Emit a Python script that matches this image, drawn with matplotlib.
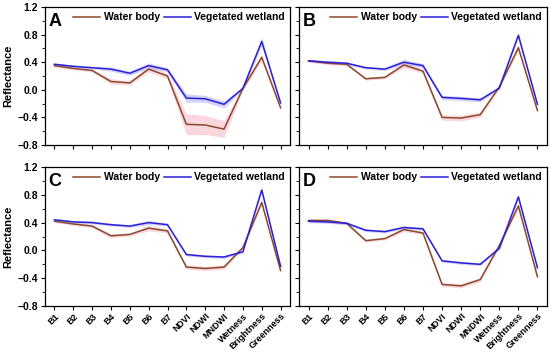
import numpy as np
import matplotlib
matplotlib.use("Agg")
import matplotlib.pyplot as plt
from matplotlib.ticker import MultipleLocator

plt.rcParams['font.family'] = ['Liberation Sans', 'DejaVu Sans']
plt.rcParams['font.weight'] = 'bold'
plt.rcParams['axes.unicode_minus'] = True

features = ["B1", "B2", "B3", "B4", "B5", "B6", "B7", "NDVI", "NDWI", "MNDWI",
            "Wetness", "Brightness", "Greenness"]

# panel A
water_a = [0.35, 0.31, 0.28, 0.12, 0.10, 0.30, 0.20, -0.50, -0.51, -0.57, 0.02, 0.47, -0.26]
water_a_sd = [0.02, 0.02, 0.02, 0.04, 0.03, 0.04, 0.04, 0.15, 0.14, 0.12, 0.03, 0.05, 0.02]
veg_a = [0.37, 0.34, 0.32, 0.30, 0.24, 0.35, 0.29, -0.12, -0.13, -0.21, 0.02, 0.70, -0.19]
veg_a_sd = [0.02, 0.02, 0.02, 0.03, 0.03, 0.04, 0.03, 0.06, 0.05, 0.05, 0.02, 0.06, 0.02]

# panel B
water_b = [0.42, 0.385, 0.37, 0.16, 0.18, 0.36, 0.27, -0.40, -0.41, -0.36, 0.04, 0.61, -0.30]
water_b_sd = [0.02, 0.02, 0.02, 0.02, 0.02, 0.04, 0.03, 0.04, 0.04, 0.04, 0.02, 0.04, 0.02]
veg_b = [0.42, 0.40, 0.385, 0.32, 0.30, 0.40, 0.35, -0.11, -0.125, -0.145, 0.025, 0.79, -0.21]
veg_b_sd = [0.02, 0.02, 0.02, 0.02, 0.02, 0.04, 0.03, 0.03, 0.03, 0.03, 0.02, 0.03, 0.02]

# panel C
water_c = [0.42, 0.38, 0.35, 0.21, 0.23, 0.32, 0.28, -0.24, -0.26, -0.24, 0.04, 0.69, -0.29]
water_c_sd = [0.02, 0.02, 0.02, 0.03, 0.02, 0.04, 0.03, 0.03, 0.03, 0.03, 0.02, 0.03, 0.02]
veg_c = [0.44, 0.41, 0.40, 0.37, 0.35, 0.40, 0.37, -0.06, -0.085, -0.095, -0.02, 0.87, -0.23]
veg_c_sd = [0.02, 0.02, 0.02, 0.02, 0.02, 0.03, 0.02, 0.02, 0.02, 0.02, 0.02, 0.03, 0.02]

# panel D
water_d = [0.43, 0.43, 0.39, 0.14, 0.17, 0.30, 0.25, -0.49, -0.51, -0.42, 0.07, 0.64, -0.38]
water_d_sd = [0.03, 0.03, 0.02, 0.02, 0.02, 0.03, 0.02, 0.03, 0.03, 0.03, 0.03, 0.04, 0.02]
veg_d = [0.42, 0.41, 0.39, 0.29, 0.27, 0.33, 0.31, -0.15, -0.18, -0.20, 0.03, 0.77, -0.25]
veg_d_sd = [0.02, 0.02, 0.02, 0.02, 0.02, 0.02, 0.02, 0.02, 0.02, 0.02, 0.02, 0.03, 0.02]

panels = [
    ("A", water_a, water_a_sd, veg_a, veg_a_sd),
    ("B", water_b, water_b_sd, veg_b, veg_b_sd),
    ("C", water_c, water_c_sd, veg_c, veg_c_sd),
    ("D", water_d, water_d_sd, veg_d, veg_d_sd),
]

W, H = 550, 354
fig = plt.figure(figsize=(W / 100, H / 100), dpi=100)

# pixel boxes (left, top, right, bottom)
boxes = [(45, 7, 290, 145), (299, 7, 547, 145), (45, 167, 290, 306), (299, 167, 547, 306)]

water_col = "#8b4a2b"
water_fill = "#f4a6b8"
veg_col = "#2a1fd6"
veg_fill = "#9c9cf0"

x = np.arange(len(features))
for i, (box, (lab, w, wsd, v, vsd)) in enumerate(zip(boxes, panels)):
    l, t, r, b = box
    ax = fig.add_axes([l / W, 1 - b / H, (r - l) / W, (b - t) / H])
    w = np.array(w); wsd = np.array(wsd)
    v = np.array(v); vsd = np.array(vsd)
    ax.fill_between(x, w - wsd, w + wsd, color=water_fill, alpha=0.45, lw=0)
    ax.fill_between(x, v - vsd, v + vsd, color=veg_fill, alpha=0.45, lw=0)
    ax.plot(x, w, color=water_col, lw=1.1, label="Water body")
    ax.plot(x, v, color=veg_col, lw=1.1, label="Vegetated wetland")
    ax.set_xlim(-0.5, 12.5)
    ax.set_ylim(-0.8, 1.2)
    ax.yaxis.set_major_locator(MultipleLocator(0.4))
    ax.yaxis.set_minor_locator(MultipleLocator(0.2))
    ax.set_xticks(x)
    ax.tick_params(axis='both', which='major', length=3, width=0.8, labelsize=7.5, pad=2)
    ax.tick_params(axis='x', which='major', pad=1)
    ax.tick_params(axis='y', which='minor', length=2, width=0.6)
    for s in ax.spines.values():
        s.set_linewidth(0.9)
    ax.set_yticks([-0.8, -0.4, 0.0, 0.4, 0.8, 1.2])
    if i % 2 == 0:
        ax.set_yticklabels(["\u22120.8", "\u22120.4", "0.0", "0.4", "0.8", "1.2"], fontweight='bold')
        ax.set_ylabel("Reflectance", fontsize=8, fontweight='bold', labelpad=3)
    else:
        ax.set_yticklabels([])
    if i >= 2:
        ax.set_xticklabels(features, rotation=45, ha='right', rotation_mode='anchor',
                           fontsize=6.5, fontweight='bold')
    else:
        ax.set_xticklabels([])
    ax.text(0.015, 0.96, lab, transform=ax.transAxes, fontsize=13, fontweight='bold',
            va='top', ha='left')
    ax.legend(loc='upper right', ncol=2, frameon=False,
              handlelength=2.6, handletextpad=0.3, columnspacing=0.4,
              borderaxespad=0.1, prop={'weight': 'bold', 'size': 7.5})

fig.savefig("out.png", dpi=100)
